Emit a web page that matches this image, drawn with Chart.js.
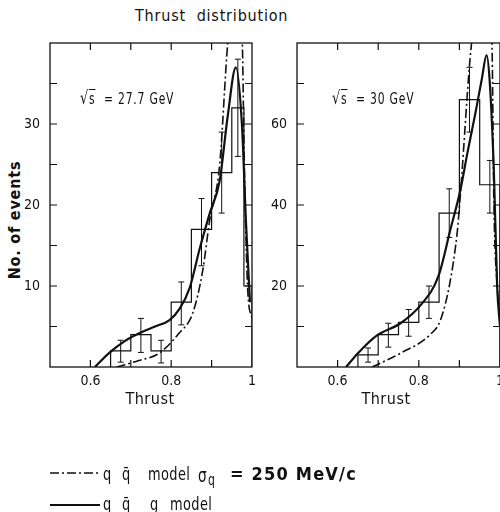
<!DOCTYPE html>
<html lang="en">
<head>
<meta charset="UTF-8">
<title>Thrust distribution</title>
<style>
    html, body { margin: 0; padding: 0; overflow: hidden; background: #fff; }
    body {
        width: 500px; height: 512px; position: relative;
        font-family: "DejaVu Sans Condensed", "DejaVu Sans", sans-serif;
        color: #111;
    }
    .txt { position: absolute; white-space: nowrap; line-height: 1; }
    .cx { transform-origin: left top; transform: scaleX(0.8); }
    .ov { text-decoration: overline; }
    .wrap { position: absolute; top: 0; }
    svg { position: absolute; left: 0; top: 0; }
</style>
<script src="https://cdn.jsdelivr.net/npm/chart.js"></script>
</head>
<body>
    <div class="txt" style="left:135px; top:8px; font-size:16px; letter-spacing:0.8px;">Thrust&nbsp; distribution</div>
    <div class="txt" style="left:15px; top:220px; font-size:16px; font-weight:bold; letter-spacing:0.8px; transform:translate(-50%,-50%) rotate(-90deg);">No. of events</div>

    <div class="wrap" style="left:0;"><canvas id="leftChart" width="262" height="392"></canvas></div>
    <div class="wrap" style="left:247px;"><canvas id="rightChart" width="263" height="392"></canvas></div>

    <div class="txt cx" style="left:80px; top:89px; font-size:15px; letter-spacing:1px;"><span style="font-size:18px;">√</span><span class="ov">s</span>&nbsp; = 27.7 GeV</div>
    <div class="txt cx" style="left:332px; top:89px; font-size:15px; letter-spacing:1px;"><span style="font-size:18px;">√</span><span class="ov">s</span>&nbsp; = 30 GeV</div>

    <div class="txt" style="left:150px; top:391px; font-size:16px; letter-spacing:0.5px; transform:translateX(-50%);">Thrust</div>
    <div class="txt" style="left:386px; top:391px; font-size:16px; letter-spacing:0.5px; transform:translateX(-50%);">Thrust</div>

    <!-- legend -->
    <svg width="500" height="512">
        <line x1="50" y1="473" x2="100" y2="473" stroke="#111" stroke-width="1.6" stroke-dasharray="9,3,2,3"/>
        <line x1="50" y1="505" x2="100" y2="505" stroke="#111" stroke-width="2"/>
    </svg>
    <div class="txt cx" style="left:103px; top:465px; font-size:18px;">q</div>
    <div class="txt cx" style="left:122px; top:465px; font-size:18px;">q&#x0304;</div>
    <div class="txt cx" style="left:148px; top:465px; font-size:18px; letter-spacing:0.5px;">model</div>
    <div class="txt cx" style="left:198px; top:466px; font-size:19px;">σ</div>
    <div class="txt cx" style="left:208px; top:473px; font-size:15px;">q</div>
    <div class="txt" style="left:230px; top:465px; font-size:18px; font-weight:bold; letter-spacing:1.2px;">= 250 MeV/c</div>
    <div class="txt cx" style="left:103px; top:495px; font-size:18px;">q</div>
    <div class="txt cx" style="left:122px; top:495px; font-size:18px;">q&#x0304;</div>
    <div class="txt cx" style="left:150px; top:495px; font-size:18px;">g</div>
    <div class="txt cx" style="left:170px; top:495px; font-size:18px; letter-spacing:0.5px;">model</div>

<script>
// ---- data ----
const leftEdges  = [0.65, 0.70, 0.75, 0.80, 0.85, 0.90, 0.95, 0.98, 1.00];
const leftCounts = [2, 4, 2, 8, 17, 24, 32, 10];
const leftErrX  = [0.675, 0.725, 0.775, 0.825, 0.875, 0.925, 0.965];
const leftErrLo = [0.6, 1.8, 0.5, 5.2, 12.5, 19, 26];
const leftErrHi = [3.3, 6.0, 3.3, 10.5, 20.8, 29, 38];
const leftQqgX = [0.611, 0.648, 0.685, 0.722, 0.76, 0.796, 0.821, 0.846, 0.870, 0.895, 0.920, 0.940, 0.960, 0.975, 0.985, 0.995];
const leftQqgY = [0, 1.8, 3.2, 4.2, 5.0, 5.8, 7.2, 9.8, 14.5, 18.9, 23, 31, 37, 30, 18, 8];
const leftQqX = [0.665, 0.72, 0.77, 0.82, 0.853, 0.878, 0.895, 0.920, 0.940, 0.958, 0.976, 0.980, 0.985, 0.990, 1.0];
const leftQqY = [0, 0.8, 1.7, 4.2, 6.6, 11.9, 18, 25, 40, 47, 40, 28, 16, 9, 6];

const rightEdges  = [0.65, 0.70, 0.75, 0.80, 0.85, 0.90, 0.95, 1.00];
const rightCounts = [3, 8, 11, 16, 38, 66, 45];
const rightErrX  = [0.675, 0.725, 0.775, 0.825, 0.875, 0.925, 0.975];
const rightErrLo = [1.2, 4.9, 7.6, 12, 32, 58, 38];
const rightErrHi = [4.7, 10.8, 14.2, 20, 44, 74, 51];
const rightQqgX = [0.621, 0.65, 0.697, 0.755, 0.804, 0.849, 0.878, 0.902, 0.92, 0.94, 0.955, 0.967, 0.975, 0.985, 0.993, 1.0];
const rightQqgY = [0, 3.4, 7.8, 10.8, 15.2, 22.6, 34, 43.5, 53, 63, 71, 77, 70, 48, 20, 10];
const rightQqX = [0.685, 0.755, 0.828, 0.853, 0.877, 0.895, 0.902, 0.93, 0.955, 0.98, 0.985, 0.993, 1.0];
const rightQqY = [0, 3.4, 8, 11.5, 21, 33.6, 42, 80, 92, 80, 40, 20, 12];

const xLabelVals = [0.6, 0.8, 1.0];
const leftYLabels = [10, 20, 30];
const rightYLabels = [20, 40, 60];

const INK = '#111';
const FONT = '"DejaVu Sans Condensed", "DejaVu Sans", sans-serif';

function histPoints(edges, counts) {
    const pts = [{ x: edges[0], y: 0 }];
    counts.forEach((c, i) => pts.push({ x: edges[i], y: c }));
    pts.push({ x: edges[edges.length - 1], y: 0 });
    return pts;
}
function curve(xs, ys) {
    return xs.map((x, i) => ({ x: x, y: ys[i] }));
}
function near(list, v) {
    return list.some(l => Math.abs(l - v) < 1e-6);
}

// frame with inward ticks and error bars
const framePlugin = {
    id: 'frame',
    afterDatasetsDraw(chart, args, opts) {
        const { ctx, chartArea: a, scales: { x, y } } = chart;
        ctx.save();
        ctx.strokeStyle = INK;
        ctx.lineWidth = 1.3;
        ctx.strokeRect(a.left, a.top, a.right - a.left, a.bottom - a.top);
        ctx.lineWidth = 1.2;
        ctx.beginPath();
        x.ticks.forEach(t => {
            if (t.value <= x.min + 1e-6 || t.value >= x.max - 1e-6) return;
            const px = x.getPixelForValue(t.value);
            ctx.moveTo(px, a.bottom); ctx.lineTo(px, a.bottom - 7);
            ctx.moveTo(px, a.top); ctx.lineTo(px, a.top + 7);
        });
        y.ticks.forEach(t => {
            if (t.value <= y.min + 1e-6 || t.value >= y.max - 1e-6) return;
            const py = y.getPixelForValue(t.value);
            ctx.moveTo(a.left, py); ctx.lineTo(a.left + 7, py);
            ctx.moveTo(a.right, py); ctx.lineTo(a.right - 7, py);
        });
        ctx.stroke();

        // error bars
        ctx.lineWidth = 1;
        ctx.beginPath();
        opts.ex.forEach((ex, i) => {
            const px = x.getPixelForValue(ex);
            const p1 = y.getPixelForValue(opts.lo[i]);
            const p2 = y.getPixelForValue(opts.hi[i]);
            ctx.moveTo(px, p1); ctx.lineTo(px, p2);
            ctx.moveTo(px - 3, p1); ctx.lineTo(px + 3, p1);
            ctx.moveTo(px - 3, p2); ctx.lineTo(px + 3, p2);
        });
        ctx.stroke();
        ctx.restore();
    }
};

function makeChart(id, d) {
    return new Chart(document.getElementById(id), {
        type: 'line',
        data: {
            datasets: [
                {
                    data: histPoints(d.edges, d.counts),
                    stepped: true,
                    borderColor: INK, borderWidth: 1.2,
                    pointRadius: 0, fill: false
                },
                {
                    data: curve(d.qqgX, d.qqgY),
                    cubicInterpolationMode: 'monotone',
                    borderColor: INK, borderWidth: 2.2,
                    pointRadius: 0, fill: false
                },
                {
                    data: curve(d.qqX, d.qqY),
                    cubicInterpolationMode: 'monotone',
                    borderColor: INK, borderWidth: 1.6,
                    borderDash: [9, 3, 2, 3],
                    pointRadius: 0, fill: false
                }
            ]
        },
        options: {
            responsive: false,
            animation: false,
            layout: { padding: { top: 43, right: 10, left: 0, bottom: 0 } },
            plugins: {
                legend: { display: false },
                tooltip: { enabled: false },
                frame: { ex: d.errX, lo: d.errLo, hi: d.errHi }
            },
            scales: {
                x: {
                    type: 'linear', min: 0.5, max: 1.0,
                    grid: { display: false, drawTicks: false },
                    border: { display: false },
                    afterFit: s => { s.height = 25; },
                    ticks: {
                        stepSize: 0.1, padding: 6, color: INK, maxRotation: 0,
                        font: { family: FONT, size: 14 },
                        callback: v => near(xLabelVals, v) ? (Math.abs(v - 1) < 1e-6 ? '1' : v.toFixed(1)) : ''
                    }
                },
                y: {
                    min: 0, max: d.ymax,
                    grid: { display: false, drawTicks: false },
                    border: { display: false },
                    afterFit: s => { s.width = 50; },
                    ticks: {
                        stepSize: d.ystep, padding: 10, color: INK,
                        font: { family: FONT, size: 14 },
                        callback: v => near(d.yLabels, v) ? String(v) : ''
                    }
                }
            }
        },
        plugins: [framePlugin]
    });
}

makeChart('leftChart', {
    edges: leftEdges, counts: leftCounts,
    errX: leftErrX, errLo: leftErrLo, errHi: leftErrHi,
    qqgX: leftQqgX, qqgY: leftQqgY, qqX: leftQqX, qqY: leftQqY,
    ymax: 40, ystep: 5, yLabels: leftYLabels
});
makeChart('rightChart', {
    edges: rightEdges, counts: rightCounts,
    errX: rightErrX, errLo: rightErrLo, errHi: rightErrHi,
    qqgX: rightQqgX, qqgY: rightQqgY, qqX: rightQqX, qqY: rightQqY,
    ymax: 80, ystep: 10, yLabels: rightYLabels
});
</script>
</body>
</html>
